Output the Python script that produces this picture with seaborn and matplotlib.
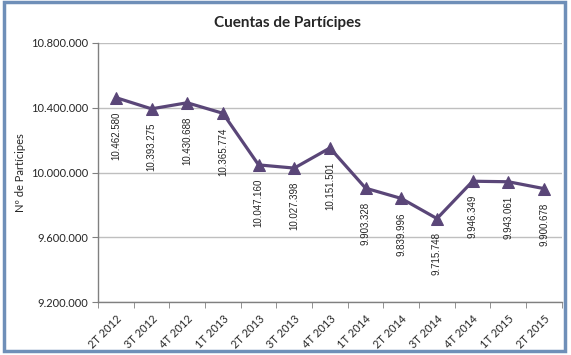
import matplotlib
matplotlib.use("Agg")
import matplotlib.pyplot as plt
import matplotlib.ticker as mticker
from matplotlib.patches import Rectangle
import pandas as pd
import seaborn as sns

# Data
quarters = ["2T 2012", "3T 2012", "4T 2012", "1T 2013", "2T 2013", "3T 2013", "4T 2013",
            "1T 2014", "2T 2014", "3T 2014", "4T 2014", "1T 2015", "2T 2015"]
participes = [10462580, 10393275, 10430688, 10365774, 10047160, 10027398, 10151501,
              9903328, 9839996, 9715748, 9946349, 9943061, 9900678]
y_ticks = [9200000, 9600000, 10000000, 10400000, 10800000]

LINE_COLOR = "#5A4678"
GRID_COLOR = "#BFBFBF"


def fmt_es(v):
    # Spanish thousands separator
    return f"{int(v):,}".replace(",", ".")


df = pd.DataFrame({"trimestre": quarters, "participes": participes})

sns.set_style("white")
plt.rcParams["font.family"] = ["Lato", "DejaVu Sans"]

fig = plt.figure(figsize=(5.71, 3.55), dpi=100)
ax = fig.add_axes([0.1716, 0.149, 0.8124, 0.730])

sns.lineplot(data=df, x="trimestre", y="participes", ax=ax, color=LINE_COLOR,
             linewidth=2.3, marker="^", markersize=9, markeredgecolor=LINE_COLOR,
             sort=False)

# data labels, rotated, hanging below each point
for i, v in enumerate(participes):
    ax.annotate(fmt_es(v), xy=(i, v), xytext=(0, -10), textcoords="offset points",
                rotation=90, ha="center", va="top", fontsize=7,
                family="Liberation Sans", color="#262626")

ax.set_ylim(9200000, 10800000)
ax.set_xlim(-0.5, len(quarters) - 0.5)
ax.set_yticks(y_ticks)
ax.yaxis.set_major_formatter(mticker.FuncFormatter(lambda v, p: fmt_es(v)))
ax.tick_params(axis="y", labelsize=8, length=4, color="#808080", direction="out", pad=3, left=True)

ax.set_xticks(range(len(quarters)))
ax.set_xticklabels(quarters, rotation=45, ha="right", rotation_mode="anchor", fontsize=8)
ax.xaxis.set_minor_locator(mticker.FixedLocator([i - 0.5 for i in range(len(quarters) + 1)]))
ax.tick_params(axis="x", which="major", length=0, pad=8)
ax.tick_params(axis="x", which="minor", length=4, color="#808080", direction="out", bottom=True)

ax.yaxis.grid(True, color=GRID_COLOR, linewidth=1)
ax.xaxis.grid(False)
ax.set_axisbelow(True)
for side in ["top", "right"]:
    ax.spines[side].set_visible(False)
for side in ["left", "bottom"]:
    ax.spines[side].set_color("#808080")
    ax.spines[side].set_linewidth(1)

ax.set_xlabel("")
ax.set_ylabel("Nº de Partícipes", fontsize=8)
ax.yaxis.set_label_coords(-0.155, 0.5)

fig.text(0.503, 0.935, "Cuentas de Partícipes", ha="center", va="center",
         fontsize=11, fontweight="bold")

fig.patches.append(Rectangle((0.007, 0.012), 0.982, 0.982, transform=fig.transFigure,
                             fill=False, edgecolor="#6F8FB8", linewidth=2.5))

fig.savefig("out.png", dpi=100)
